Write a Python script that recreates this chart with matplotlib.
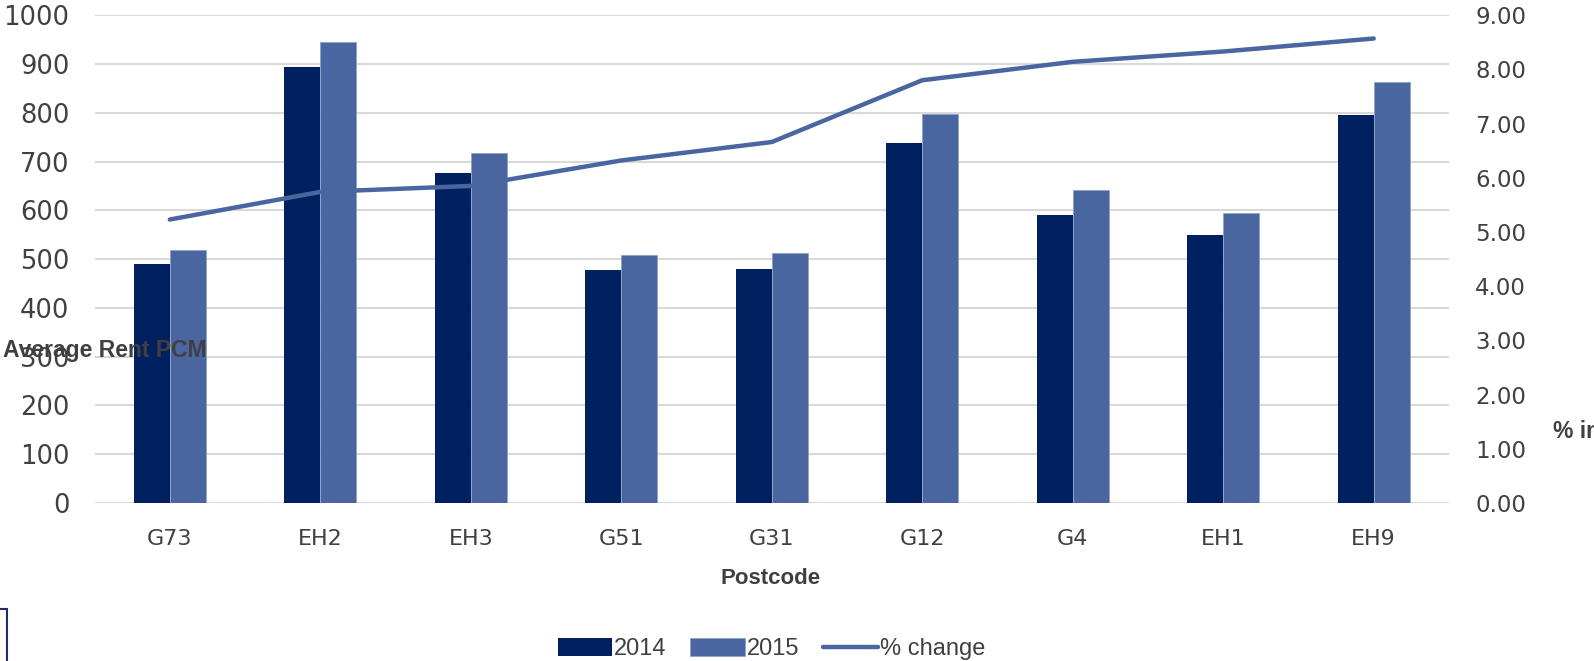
#!/usr/bin/env python3
# average rent by postcode, 2014 vs 2015, with % change on a second axis

import numpy as np
import matplotlib.pyplot as plt
from matplotlib.patches import Rectangle

postcodes = ['G73', 'EH2', 'EH3', 'G51', 'G31', 'G12', 'G4', 'EH1', 'EH9']
rent_2014 = [491, 894, 677, 477, 479, 737, 590, 550, 796]
rent_2015 = [518, 946, 717, 508, 512, 798, 642, 594, 864]
pct_change = [5.23, 5.74, 5.85, 6.32, 6.66, 7.80, 8.14, 8.33, 8.57]

left_ticks = np.arange(0, 1001, 100)
right_ticks = np.arange(0, 9.01, 1)

navy = '#002060'
mid_blue = '#4a66a0'
text_grey = '#404040'
grid_grey = '#d9d9d9'

wide = ['DejaVu Sans']
plain = ['Liberation Sans', 'DejaVu Sans']

fig = plt.figure(figsize=(15.94, 6.61), dpi=100)
ax = fig.add_axes([0.0593, 0.239, 0.8497, 0.738])
ax2 = ax.twinx()

x = np.arange(len(postcodes))
w = 0.24
b1 = ax.bar(x - w / 2, rent_2014, w, color=navy, label='2014', zorder=2)
b2 = ax.bar(x + w / 2, rent_2015, w, color=mid_blue, label='2015', zorder=2,
            edgecolor='#8ea2c8', linewidth=0.6)
ln, = ax2.plot(x, pct_change, color=mid_blue, linewidth=3.2,
               solid_capstyle='round', label='% change')

ax.set_xlim(-0.5, len(postcodes) - 0.5)
ax.set_ylim(0, 1000)
ax2.set_ylim(0, 9)
ax.set_yticks(left_ticks)
ax2.set_yticks(right_ticks)
ax2.set_yticklabels([f'{v:.2f}' for v in right_ticks])
ax.set_xticks(x)
ax.set_xticklabels(postcodes)

ax.yaxis.grid(True, color=grid_grey, linewidth=1.5, zorder=0)
ax.set_axisbelow(True)
for a in (ax, ax2):
    for s in a.spines.values():
        s.set_visible(False)
    a.tick_params(length=0, colors=text_grey)
    for lab in a.get_yticklabels() + a.get_xticklabels():
        lab.set_family(wide)
ax.tick_params(axis='y', pad=18, labelsize=18.5)
ax2.tick_params(axis='y', pad=19, labelsize=16.5)
ax.tick_params(axis='x', pad=19, labelsize=16)

# axis titles placed as free text
fig.text(0.002, 1 - 351 / 661, 'Average Rent PCM', ha='left', va='center',
         fontsize=16.5, fontweight='bold', color=text_grey, family=plain)
fig.text(1553 / 1594, 1 - 431 / 661, '% increase', ha='left', va='center',
         fontsize=16.5, fontweight='bold', color=text_grey, family=plain)
fig.text(771 / 1594, 1 - 579 / 661, 'Postcode', ha='center', va='center',
         fontsize=16, fontweight='bold', color=text_grey, family=plain)

leg = fig.legend([b1, b2, ln], ['2014', '2015', '% change'], loc='center',
                 bbox_to_anchor=(0.484, 1 - 649 / 661), ncol=3, frameon=False,
                 prop={'family': plain, 'size': 17}, handlelength=2.3,
                 handleheight=0.8, handletextpad=0.1, columnspacing=1.0)
for t in leg.get_texts():
    t.set_color(text_grey)

# stray frame edge in the bottom left corner
fig.patches.append(Rectangle((-0.01, -0.05), 0.0145, 1 - 609 / 661 + 0.05,
                             transform=fig.transFigure, fill=False,
                             edgecolor='#1f2d6b', linewidth=1.5))

fig.savefig('out.png', dpi=100)
